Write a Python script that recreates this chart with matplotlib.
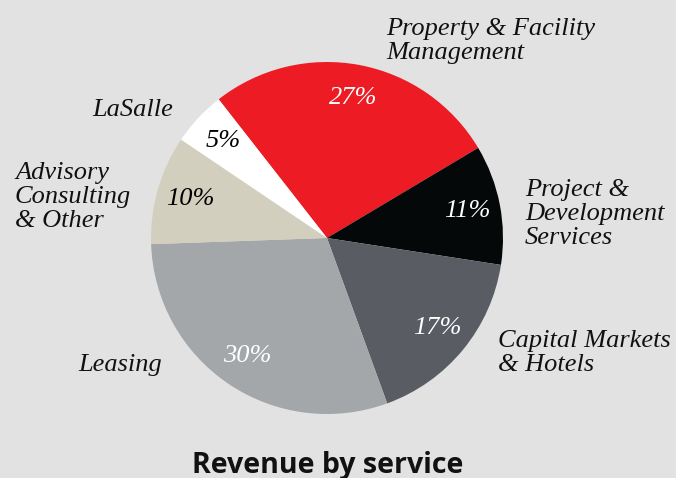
import matplotlib.pyplot as plt

services = ['Property & Facility\nManagement', 'Project &\nDevelopment\nServices',
            'Capital Markets\n& Hotels', 'Leasing', 'Advisory\nConsulting\n& Other', 'LaSalle']
shares = [27, 11, 17, 30, 10, 5]
colors = ['#ed1c24', '#050808', '#5a5c64', '#a4a7aa', '#d3cfbf', '#ffffff']
pct_colors = ['white', 'white', 'white', 'white', 'black', 'black']

# label anchors (px in the 676x478 picture), left aligned, vertically centred
label_px = [(386, 41), (525, 214), (498, 353), (78, 365), (15, 197), (92, 110)]

W, H = 676, 478
cx, cy, R = 327, 238, 176

fig = plt.figure(figsize=(W / 100, H / 100), dpi=100)
fig.patch.set_facecolor('#e2e2e2')
ax = fig.add_axes([(cx - R) / W, (H - cy - R) / H, 2 * R / W, 2 * R / H])
ax.set_facecolor('#e2e2e2')

wedges, texts, autotexts = ax.pie(
    shares, colors=colors, startangle=128, counterclock=False,
    autopct='%d%%', pctdistance=0.81,
    textprops=dict(family='Liberation Serif', style='italic', fontsize=19))
for t, c in zip(autotexts, pct_colors):
    t.set_color(c)

ax.set_xlim(-1, 1)
ax.set_ylim(-1, 1)
ax.axis('off')

for name, (px, py) in zip(services, label_px):
    ax.text((px - cx) / R, (cy - py) / R, name, ha='left', va='center',
            family='Liberation Serif', style='italic', fontsize=19,
            linespacing=1.12, color='#111111')

fig.text(328 / W, 1 - 465 / H, 'Revenue by service', ha='center', va='center',
         family='Open Sans', weight='bold', fontsize=20.5, color='#111111')

fig.savefig('out.png', dpi=100, facecolor=fig.get_facecolor())
